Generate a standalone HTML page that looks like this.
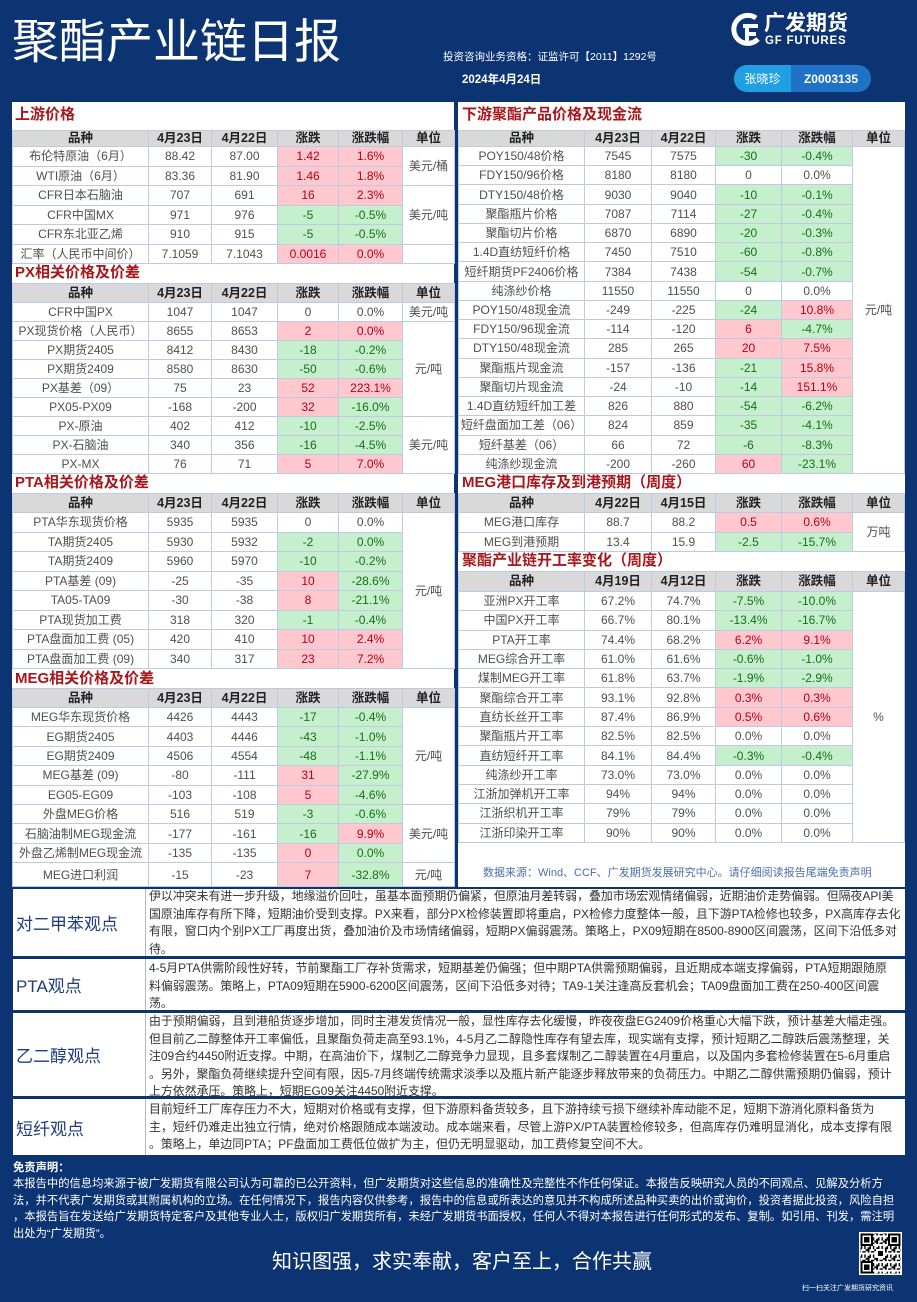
<!DOCTYPE html>
<html><head><meta charset="utf-8">
<style>
*{margin:0;padding:0;box-sizing:border-box}
body{width:917px;height:1302px;background:#0c3473;position:relative;overflow:hidden;font-family:"Liberation Sans","Noto Sans CJK SC",sans-serif}
.abs{position:absolute}
.panel{position:absolute;background:#fff}
.ttl{position:absolute;font-size:15px;font-weight:bold;color:#a8171c;line-height:20px;white-space:nowrap}
table{position:absolute;border-collapse:collapse;table-layout:fixed;font-size:12px;color:#4f4f4f}
td,th{border:1px solid #bccbe3;text-align:center;white-space:nowrap;overflow:hidden;padding:0;line-height:1}
th{background:#d9d9d9;font-weight:bold;color:#222;font-size:12.5px}
td.r{background:#ffc7ce;color:#b3001b}
td.g{background:#c6efce;color:#157015}
.obs{position:absolute;left:13px;width:892px;background:#fff}
.obs .lab{position:absolute;left:0;top:0;bottom:0;width:133px;border-right:1px solid #a9b9d6;display:flex;align-items:center;padding-left:3px;font-size:17px;color:#1f3d7a}
.obs .txt{position:absolute;left:136px;right:0;font-size:11.9px;color:#333;line-height:17.5px;white-space:nowrap;overflow:hidden}
.disc{position:absolute;left:13px;color:#fff;font-size:11.3px;line-height:16.7px;white-space:nowrap}
</style></head><body>

<!-- Header -->
<div class="abs" style="left:12px;top:13px;font-size:47px;line-height:50px;color:#fff;white-space:nowrap;font-family:'Noto Sans CJK SC',sans-serif">聚酯产业链日报</div>
<svg class="abs" style="left:731px;top:12px" width="32" height="36" viewBox="0 0 32 36">
<path d="M25 6 A14 14 0 1 0 27 27" stroke="#fff" stroke-width="5" fill="none"/>
<path d="M12 14 h15 M16 14 v17 M16 22 h9" stroke="#fff" stroke-width="4" fill="none"/>
</svg>
<div class="abs" style="left:764px;top:12px;font-size:21px;line-height:24px;color:#fff;font-weight:bold;white-space:nowrap">广发期货</div>
<div class="abs" style="left:765px;top:35px;font-size:11.5px;line-height:12px;color:#fff;font-weight:bold;letter-spacing:0.8px;white-space:nowrap">GF FUTURES</div>
<div class="abs" style="left:443px;top:50px;font-size:10.5px;line-height:14px;color:#fff;white-space:nowrap">投资咨询业务资格：证监许可【2011】1292号</div>
<div class="abs" style="left:462px;top:73px;font-size:11.5px;line-height:14px;color:#fff;font-weight:bold;white-space:nowrap">2024年4月24日</div>
<div class="abs" style="left:734px;top:65px;width:137px;height:27px;border-radius:13px;overflow:hidden;display:flex;font-size:12px;color:#fff">
<div style="width:57px;background:#20a0e2;display:flex;align-items:center;justify-content:center">张晓珍</div>
<div style="flex:1;background:#1f72c6;display:flex;align-items:center;justify-content:center;font-weight:bold">Z0003135</div>
</div>

<!-- Panels -->
<div class="panel" style="left:12px;top:102px;width:442px;height:785px"></div>
<div class="panel" style="left:458px;top:102px;width:447px;height:785px"></div>

<!-- Left: 上游价格 -->
<div class="ttl" style="left:15px;top:105px">上游价格</div>
<table style="left:12px;top:130px;width:442px;height:133px">
<colgroup><col style="width:136px"><col style="width:63px"><col style="width:66px"><col style="width:61px"><col style="width:64px"><col style="width:52px"></colgroup>
<tr style="height:16px"><th>品种</th><th>4月23日</th><th>4月22日</th><th>涨跌</th><th>涨跌幅</th><th>单位</th></tr>
<tr style="height:19.5px"><td>布伦特原油（6月）</td><td>88.42</td><td>87.00</td><td class="r">1.42</td><td class="r">1.6%</td><td rowspan="2">美元/桶</td></tr>
<tr style="height:19.5px"><td>WTI原油（6月）</td><td>83.36</td><td>81.90</td><td class="r">1.46</td><td class="r">1.8%</td></tr>
<tr style="height:19.5px"><td>CFR日本石脑油</td><td>707</td><td>691</td><td class="r">16</td><td class="r">2.3%</td><td rowspan="3">美元/吨</td></tr>
<tr style="height:19.5px"><td>CFR中国MX</td><td>971</td><td>976</td><td class="g">-5</td><td class="g">-0.5%</td></tr>
<tr style="height:19.5px"><td>CFR东北亚乙烯</td><td>910</td><td>915</td><td class="g">-5</td><td class="g">-0.5%</td></tr>
<tr style="height:19.5px"><td>汇率（人民币中间价）</td><td>7.1059</td><td>7.1043</td><td class="r">0.0016</td><td class="r">0.0%</td><td></td></tr>
</table>

<!-- PX -->
<div class="ttl" style="left:15px;top:263px">PX相关价格及价差</div>
<table style="left:12px;top:283px;width:442px;height:190px">
<colgroup><col style="width:136px"><col style="width:63px"><col style="width:66px"><col style="width:61px"><col style="width:64px"><col style="width:52px"></colgroup>
<tr style="height:19px"><th>品种</th><th>4月23日</th><th>4月22日</th><th>涨跌</th><th>涨跌幅</th><th>单位</th></tr>
<tr style="height:19px"><td>CFR中国PX</td><td>1047</td><td>1047</td><td>0</td><td>0.0%</td><td>美元/吨</td></tr>
<tr style="height:19px"><td>PX现货价格（人民币）</td><td>8655</td><td>8653</td><td class="r">2</td><td class="r">0.0%</td><td rowspan="5">元/吨</td></tr>
<tr style="height:19px"><td>PX期货2405</td><td>8412</td><td>8430</td><td class="g">-18</td><td class="g">-0.2%</td></tr>
<tr style="height:19px"><td>PX期货2409</td><td>8580</td><td>8630</td><td class="g">-50</td><td class="g">-0.6%</td></tr>
<tr style="height:19px"><td>PX基差（09）</td><td>75</td><td>23</td><td class="r">52</td><td class="r">223.1%</td></tr>
<tr style="height:19px"><td>PX05-PX09</td><td>-168</td><td>-200</td><td class="r">32</td><td class="g">-16.0%</td></tr>
<tr style="height:19px"><td>PX-原油</td><td>402</td><td>412</td><td class="g">-10</td><td class="g">-2.5%</td><td rowspan="3">美元/吨</td></tr>
<tr style="height:19px"><td>PX-石脑油</td><td>340</td><td>356</td><td class="g">-16</td><td class="g">-4.5%</td></tr>
<tr style="height:19px"><td>PX-MX</td><td>76</td><td>71</td><td class="r">5</td><td class="r">7.0%</td></tr>
</table>

<!-- PTA -->
<div class="ttl" style="left:15px;top:473px">PTA相关价格及价差</div>
<table style="left:12px;top:493px;width:442px;height:175px">
<colgroup><col style="width:136px"><col style="width:63px"><col style="width:66px"><col style="width:61px"><col style="width:64px"><col style="width:52px"></colgroup>
<tr style="height:19px"><th>品种</th><th>4月23日</th><th>4月22日</th><th>涨跌</th><th>涨跌幅</th><th>单位</th></tr>
<tr style="height:19.5px"><td>PTA华东现货价格</td><td>5935</td><td>5935</td><td>0</td><td>0.0%</td><td rowspan="8">元/吨</td></tr>
<tr style="height:19.5px"><td>TA期货2405</td><td>5930</td><td>5932</td><td class="g">-2</td><td class="g">0.0%</td></tr>
<tr style="height:19.5px"><td>TA期货2409</td><td>5960</td><td>5970</td><td class="g">-10</td><td class="g">-0.2%</td></tr>
<tr style="height:19.5px"><td>PTA基差 (09)</td><td>-25</td><td>-35</td><td class="r">10</td><td class="g">-28.6%</td></tr>
<tr style="height:19.5px"><td>TA05-TA09</td><td>-30</td><td>-38</td><td class="r">8</td><td class="g">-21.1%</td></tr>
<tr style="height:19.5px"><td>PTA现货加工费</td><td>318</td><td>320</td><td class="g">-1</td><td class="g">-0.4%</td></tr>
<tr style="height:19.5px"><td>PTA盘面加工费 (05)</td><td>420</td><td>410</td><td class="r">10</td><td class="r">2.4%</td></tr>
<tr style="height:19.5px"><td>PTA盘面加工费 (09)</td><td>340</td><td>317</td><td class="r">23</td><td class="r">7.2%</td></tr>
</table>

<!-- MEG -->
<div class="ttl" style="left:15px;top:669px">MEG相关价格及价差</div>
<table style="left:12px;top:688px;width:442px;height:198px">
<colgroup><col style="width:136px"><col style="width:63px"><col style="width:66px"><col style="width:61px"><col style="width:64px"><col style="width:52px"></colgroup>
<tr style="height:19px"><th>品种</th><th>4月23日</th><th>4月22日</th><th>涨跌</th><th>涨跌幅</th><th>单位</th></tr>
<tr style="height:19.4px"><td>MEG华东现货价格</td><td>4426</td><td>4443</td><td class="g">-17</td><td class="g">-0.4%</td><td rowspan="5">元/吨</td></tr>
<tr style="height:19.4px"><td>EG期货2405</td><td>4403</td><td>4446</td><td class="g">-43</td><td class="g">-1.0%</td></tr>
<tr style="height:19.4px"><td>EG期货2409</td><td>4506</td><td>4554</td><td class="g">-48</td><td class="g">-1.1%</td></tr>
<tr style="height:19.4px"><td>MEG基差 (09)</td><td>-80</td><td>-111</td><td class="r">31</td><td class="g">-27.9%</td></tr>
<tr style="height:19.4px"><td>EG05-EG09</td><td>-103</td><td>-108</td><td class="r">5</td><td class="g">-4.6%</td></tr>
<tr style="height:19.4px"><td>外盘MEG价格</td><td>516</td><td>519</td><td class="g">-3</td><td class="g">-0.6%</td><td rowspan="3">美元/吨</td></tr>
<tr style="height:19.4px"><td>石脑油制MEG现金流</td><td>-177</td><td>-161</td><td class="g">-16</td><td class="r">9.9%</td></tr>
<tr style="height:19.4px"><td>外盘乙烯制MEG现金流</td><td>-135</td><td>-135</td><td class="r">0</td><td class="g">0.0%</td></tr>
<tr style="height:24px"><td>MEG进口利润</td><td>-15</td><td>-23</td><td class="r">7</td><td class="g">-32.8%</td><td>元/吨</td></tr>
</table>

<!-- Right: 下游 -->
<div class="ttl" style="left:462px;top:105px">下游聚酯产品价格及现金流</div>
<table style="left:458px;top:130px;width:446px;height:343px">
<colgroup><col style="width:126px"><col style="width:67px"><col style="width:64px"><col style="width:66px"><col style="width:71px"><col style="width:52px"></colgroup>
<tr style="height:16px"><th>品种</th><th>4月23日</th><th>4月22日</th><th>涨跌</th><th>涨跌幅</th><th>单位</th></tr>
<tr style="height:19.24px"><td>POY150/48价格</td><td>7545</td><td>7575</td><td class="g">-30</td><td class="g">-0.4%</td><td rowspan="17">元/吨</td></tr>
<tr style="height:19.24px"><td>FDY150/96价格</td><td>8180</td><td>8180</td><td>0</td><td>0.0%</td></tr>
<tr style="height:19.24px"><td>DTY150/48价格</td><td>9030</td><td>9040</td><td class="g">-10</td><td class="g">-0.1%</td></tr>
<tr style="height:19.24px"><td>聚酯瓶片价格</td><td>7087</td><td>7114</td><td class="g">-27</td><td class="g">-0.4%</td></tr>
<tr style="height:19.24px"><td>聚酯切片价格</td><td>6870</td><td>6890</td><td class="g">-20</td><td class="g">-0.3%</td></tr>
<tr style="height:19.24px"><td>1.4D直纺短纤价格</td><td>7450</td><td>7510</td><td class="g">-60</td><td class="g">-0.8%</td></tr>
<tr style="height:19.24px"><td>短纤期货PF2406价格</td><td>7384</td><td>7438</td><td class="g">-54</td><td class="g">-0.7%</td></tr>
<tr style="height:19.24px"><td>纯涤纱价格</td><td>11550</td><td>11550</td><td>0</td><td>0.0%</td></tr>
<tr style="height:19.24px"><td>POY150/48现金流</td><td>-249</td><td>-225</td><td class="g">-24</td><td class="r">10.8%</td></tr>
<tr style="height:19.24px"><td>FDY150/96现金流</td><td>-114</td><td>-120</td><td class="r">6</td><td class="g">-4.7%</td></tr>
<tr style="height:19.24px"><td>DTY150/48现金流</td><td>285</td><td>265</td><td class="r">20</td><td class="r">7.5%</td></tr>
<tr style="height:19.24px"><td>聚酯瓶片现金流</td><td>-157</td><td>-136</td><td class="g">-21</td><td class="r">15.8%</td></tr>
<tr style="height:19.24px"><td>聚酯切片现金流</td><td>-24</td><td>-10</td><td class="g">-14</td><td class="r">151.1%</td></tr>
<tr style="height:19.24px"><td>1.4D直纺短纤加工差</td><td>826</td><td>880</td><td class="g">-54</td><td class="g">-6.2%</td></tr>
<tr style="height:19.24px"><td>短纤盘面加工差（06）</td><td>824</td><td>859</td><td class="g">-35</td><td class="g">-4.1%</td></tr>
<tr style="height:19.24px"><td>短纤基差（06）</td><td>66</td><td>72</td><td class="g">-6</td><td class="g">-8.3%</td></tr>
<tr style="height:19.24px"><td>纯涤纱现金流</td><td>-200</td><td>-260</td><td class="r">60</td><td class="g">-23.1%</td></tr>
</table>

<!-- MEG港口 -->
<div class="ttl" style="left:462px;top:473px">MEG港口库存及到港预期（周度）</div>
<table style="left:458px;top:493px;width:446px;height:58px">
<colgroup><col style="width:126px"><col style="width:67px"><col style="width:64px"><col style="width:66px"><col style="width:71px"><col style="width:52px"></colgroup>
<tr style="height:19px"><th>品种</th><th>4月22日</th><th>4月15日</th><th>涨跌</th><th>涨跌幅</th><th>单位</th></tr>
<tr style="height:19.5px"><td>MEG港口库存</td><td>88.7</td><td>88.2</td><td class="r">0.5</td><td class="r">0.6%</td><td rowspan="2">万吨</td></tr>
<tr style="height:19.5px"><td>MEG到港预期</td><td>13.4</td><td>15.9</td><td class="g">-2.5</td><td class="g">-15.7%</td></tr>
</table>

<!-- 开工率 -->
<div class="ttl" style="left:462px;top:551px">聚酯产业链开工率变化（周度）</div>
<table style="left:458px;top:571px;width:446px;height:271px">
<colgroup><col style="width:126px"><col style="width:67px"><col style="width:64px"><col style="width:66px"><col style="width:71px"><col style="width:52px"></colgroup>
<tr style="height:20px"><th>品种</th><th>4月19日</th><th>4月12日</th><th>涨跌</th><th>涨跌幅</th><th>单位</th></tr>
<tr style="height:19.3px"><td>亚洲PX开工率</td><td>67.2%</td><td>74.7%</td><td class="g">-7.5%</td><td class="g">-10.0%</td><td rowspan="13">%</td></tr>
<tr style="height:19.3px"><td>中国PX开工率</td><td>66.7%</td><td>80.1%</td><td class="g">-13.4%</td><td class="g">-16.7%</td></tr>
<tr style="height:19.3px"><td>PTA开工率</td><td>74.4%</td><td>68.2%</td><td class="r">6.2%</td><td class="r">9.1%</td></tr>
<tr style="height:19.3px"><td>MEG综合开工率</td><td>61.0%</td><td>61.6%</td><td class="g">-0.6%</td><td class="g">-1.0%</td></tr>
<tr style="height:19.3px"><td>煤制MEG开工率</td><td>61.8%</td><td>63.7%</td><td class="g">-1.9%</td><td class="g">-2.9%</td></tr>
<tr style="height:19.3px"><td>聚酯综合开工率</td><td>93.1%</td><td>92.8%</td><td class="r">0.3%</td><td class="r">0.3%</td></tr>
<tr style="height:19.3px"><td>直纺长丝开工率</td><td>87.4%</td><td>86.9%</td><td class="r">0.5%</td><td class="r">0.6%</td></tr>
<tr style="height:19.3px"><td>聚酯瓶片开工率</td><td>82.5%</td><td>82.5%</td><td>0.0%</td><td>0.0%</td></tr>
<tr style="height:19.3px"><td>直纺短纤开工率</td><td>84.1%</td><td>84.4%</td><td class="g">-0.3%</td><td class="g">-0.4%</td></tr>
<tr style="height:19.3px"><td>纯涤纱开工率</td><td>73.0%</td><td>73.0%</td><td>0.0%</td><td>0.0%</td></tr>
<tr style="height:19.3px"><td>江浙加弹机开工率</td><td>94%</td><td>94%</td><td>0.0%</td><td>0.0%</td></tr>
<tr style="height:19.3px"><td>江浙织机开工率</td><td>79%</td><td>79%</td><td>0.0%</td><td>0.0%</td></tr>
<tr style="height:19.3px"><td>江浙印染开工率</td><td>90%</td><td>90%</td><td>0.0%</td><td>0.0%</td></tr>
</table>
<div class="abs" style="left:483px;top:866px;font-size:11px;line-height:14px;color:#4b6fa5;white-space:nowrap">数据来源：Wind、CCF、广发期货发展研究中心。请仔细阅读报告尾端免责声明</div>

<!-- Observations -->
<div class="obs" style="top:889px;height:67px">
<div class="lab">对二甲苯观点</div>
<div class="txt" style="top:-1px">伊以冲突未有进一步升级，地缘溢价回吐，虽基本面预期仍偏紧，但原油月差转弱，叠加市场宏观情绪偏弱，近期油价走势偏弱。但隔夜API美<br>国原油库存有所下降，短期油价受到支撑。PX来看，部分PX检修装置即将重启，PX检修力度整体一般，且下游PTA检修也较多，PX高库存去化<br>有限，窗口内个别PX工厂再度出货，叠加油价及市场情绪偏弱，短期PX偏弱震荡。策略上，PX09短期在8500-8900区间震荡，区间下沿低多对<br>待。</div>
</div>
<div class="obs" style="top:959px;height:51px">
<div class="lab">PTA观点</div>
<div class="txt" style="top:1px">4-5月PTA供需阶段性好转，节前聚酯工厂存补货需求，短期基差仍偏强；但中期PTA供需预期偏弱，且近期成本端支撑偏弱，PTA短期跟随原<br>料偏弱震荡。策略上，PTA09短期在5900-6200区间震荡，区间下沿低多对待；TA9-1关注逢高反套机会；TA09盘面加工费在250-400区间震<br>荡。</div>
</div>
<div class="obs" style="top:1013px;height:83px">
<div class="lab">乙二醇观点</div>
<div class="txt" style="top:0px">由于预期偏弱，且到港船货逐步增加，同时主港发货情况一般，显性库存去化缓慢，昨夜夜盘EG2409价格重心大幅下跌，预计基差大幅走强。<br>但目前乙二醇整体开工率偏低，且聚酯负荷走高至93.1%，4-5月乙二醇隐性库存有望去库，现实端有支撑，预计短期乙二醇跌后震荡整理，关<br>注09合约4450附近支撑。中期，在高油价下，煤制乙二醇竞争力显现，且多套煤制乙二醇装置在4月重启，以及国内多套检修装置在5-6月重启<br>。另外，聚酯负荷继续提升空间有限，因5-7月终端传统需求淡季以及瓶片新产能逐步释放带来的负荷压力。中期乙二醇供需预期仍偏弱，预计<br>上方依然承压。策略上，短期EG09关注4450附近支撑。</div>
</div>
<div class="obs" style="top:1099px;height:56px">
<div class="lab">短纤观点</div>
<div class="txt" style="top:2px">目前短纤工厂库存压力不大，短期对价格或有支撑，但下游原料备货较多，且下游持续亏损下继续补库动能不足，短期下游消化原料备货为<br>主，短纤仍难走出独立行情，绝对价格跟随成本端波动。成本端来看，尽管上游PX/PTA装置检修较多，但高库存仍难明显消化，成本支撑有限<br>。策略上，单边同PTA；PF盘面加工费低位做扩为主，但仍无明显驱动，加工费修复空间不大。</div>
</div>

<!-- Disclaimer -->
<div class="disc" style="top:1160px;font-weight:bold">免责声明：</div>
<div class="disc" style="top:1176px">本报告中的信息均来源于被广发期货有限公司认为可靠的已公开资料，但广发期货对这些信息的准确性及完整性不作任何保证。本报告反映研究人员的不同观点、见解及分析方<br>法，并不代表广发期货或其附属机构的立场。在任何情况下，报告内容仅供参考，报告中的信息或所表达的意见并不构成所述品种买卖的出价或询价，投资者据此投资，风险自担<br>，本报告旨在发送给广发期货特定客户及其他专业人士，版权归广发期货所有，未经广发期货书面授权，任何人不得对本报告进行任何形式的发布、复制。如引用、刊发，需注明<br>出处为“广发期货”。</div>

<div class="abs" style="left:272px;top:1250px;font-size:20px;line-height:24px;color:#fff;white-space:nowrap">知识图强，求实奉献，客户至上，合作共赢</div>

<svg class="abs" style="left:858px;top:1232px" width="45" height="43" viewBox="0 0 25 25" shape-rendering="crispEdges">
<defs><pattern id="qp" width="5" height="5" patternUnits="userSpaceOnUse">
<rect width="5" height="5" fill="#fff"/>
<rect x="0" y="0" width="1" height="2" fill="#000"/><rect x="2" y="1" width="2" height="1" fill="#000"/>
<rect x="3" y="3" width="1" height="2" fill="#000"/><rect x="1" y="3" width="1" height="1" fill="#000"/>
<rect x="4" y="0" width="1" height="1" fill="#000"/><rect x="0" y="4" width="2" height="1" fill="#000"/>
</pattern></defs>
<rect width="25" height="25" fill="#fff"/>
<rect x="1" y="1" width="23" height="23" fill="url(#qp)"/>
<g fill="#000">
<rect x="1" y="1" width="7" height="7"/><rect x="17" y="1" width="7" height="7"/><rect x="1" y="17" width="7" height="7"/>
</g>
<g fill="#fff">
<rect x="2" y="2" width="5" height="5"/><rect x="18" y="2" width="5" height="5"/><rect x="2" y="18" width="5" height="5"/>
<rect x="10" y="10" width="5" height="5"/>
</g>
<g fill="#000">
<rect x="3" y="3" width="3" height="3"/><rect x="19" y="3" width="3" height="3"/><rect x="3" y="19" width="3" height="3"/>
<rect x="11" y="11" width="3" height="3"/>
</g>
</svg>
<div class="abs" style="left:802px;top:1284px;font-size:7px;line-height:9px;color:#fff;white-space:nowrap">扫一扫关注广发期货研究资讯</div>

</body></html>
